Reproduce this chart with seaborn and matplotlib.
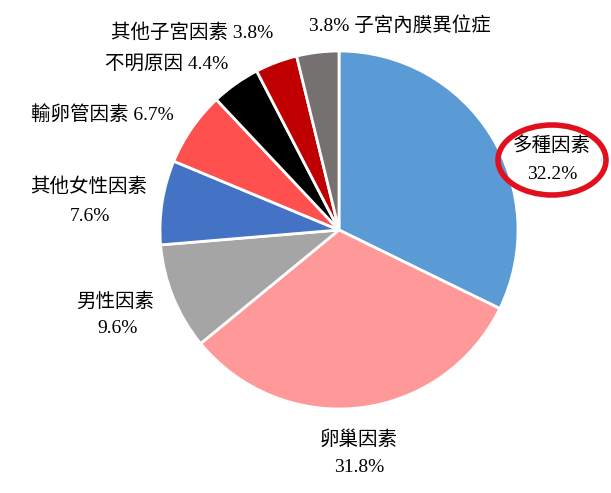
import numpy as np
import seaborn as sns
import matplotlib.pyplot as plt
from matplotlib.patches import Ellipse

# 資料
categories = ['多種因素', '卵巢因素', '男性因素', '其他女性因素', '輸卵管因素',
              '不明原因', '其他子宮因素', '子宮內膜異位症']
values = [32.2, 31.8, 9.6, 7.6, 6.7, 4.4, 3.8, 3.8]
pct_labels = ['32.2%', '31.8%', '9.6%', '7.6%', '6.7%', '4.4%', '3.8%', '3.8%']
colors = ['#5B9BD5', '#FF9999', '#A5A5A5', '#4472C4', '#FF5050',
          '#000000', '#C00000', '#767171']

sns.set_theme(style="white")
plt.rcParams['font.family'] = ['Liberation Serif', 'Noto Sans CJK TC', 'DejaVu Sans']
plt.rcParams['text.color'] = 'black'

W, H = 611, 493
CX, CY, R = 339, 230, 179

fig = plt.figure(figsize=(W / 100, H / 100), dpi=100)
ax = fig.add_axes([0, 0, 1, 1])

ax.pie(values, colors=colors, startangle=90, counterclock=False, radius=1,
       wedgeprops=dict(edgecolor='white', linewidth=2))

ax.set_xlim(-CX / R, (W - CX) / R)
ax.set_ylim(-(H - CY) / R, CY / R)
ax.set_aspect('equal')
ax.axis('off')


def px(x, y):
    return (x - CX) / R, (CY - y) / R


fs = 14
# 文字位置 (像素) -- 兩行或單行
layout = {
    0: ('two', (552, 146), (552, 174)),
    1: ('two', (359, 440), (359, 467)),
    2: ('two', (115, 302), (118, 328)),
    3: ('two', (89, 187), (90, 216)),
    4: ('one', (102, 115)),
    5: ('one', (167, 64)),
    6: ('one', (192, 33)),
    7: ('pct_first', (400, 25)),
}

for i, cat in enumerate(categories):
    spec = layout[i]
    if spec[0] == 'two':
        ax.text(*px(*spec[1]), cat, ha='center', va='center', fontsize=fs)
        ax.text(*px(*spec[2]), pct_labels[i], ha='center', va='center', fontsize=fs)
    elif spec[0] == 'one':
        ax.text(*px(*spec[1]), cat + ' ' + pct_labels[i], ha='center', va='center', fontsize=fs)
    else:
        ax.text(*px(*spec[1]), pct_labels[i] + ' ' + cat, ha='center', va='center', fontsize=fs)

# 紅色圈
ex, ey = px(552, 160)
ax.add_patch(Ellipse((ex, ey), 108 / R, 70 / R, fill=False, edgecolor='#E0101E',
                     linewidth=4, clip_on=False))

fig.savefig('out.png', dpi=100)
